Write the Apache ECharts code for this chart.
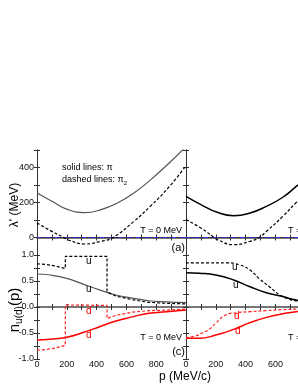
<!DOCTYPE html>
<html><head><meta charset="utf-8">
<script src="https://cdn.jsdelivr.net/npm/echarts@6/dist/echarts.min.js"></script>
<style>html,body{margin:0;padding:0;background:#fff}#c{width:298px;height:385px}</style>
</head><body><div id="c"></div>
<script>
// ---- data (p in MeV/c) ----
const xTicks = [0, 200, 400, 600, 800];
const lamTicks = [0, 200, 400];
const nTicks = [-1.0, -0.5, 0.0, 0.5, 1.0];

// panel (a) left, T = 0
const aPiL_p = [0, 100, 200, 320, 430, 540, 650, 760, 880, 1000];
const aPiL_v = [254, 207, 162, 142, 159, 197, 254, 328, 420, 520];
const aPi2L_p = [0, 100, 180, 210, 320, 430, 510, 650, 760, 880, 1000];
const aPi2L_v = [83, 35, 0, -14, -37, -22, 0, 92, 178, 283, 410];
// panel (a) right
const aPiR_p = [0, 100, 210, 320, 430, 540, 650, 740, 850, 1000];
const aPiR_v = [235, 188, 144, 125, 140, 178, 230, 292, 370, 480];
const aPi2R_p = [0, 100, 190, 210, 320, 430, 490, 540, 650, 740, 850, 1000];
const aPi2R_v = [102, 54, 0, -12, -41, -22, 0, 35, 121, 200, 290, 420];
// zero reference line (blue dash-dot)
const zero_p = [0, 1000];
const zero_v = [0, 0];

// panel (c) left
const uSolL_p = [0, 90, 200, 310, 420, 530, 640, 750, 870, 1000];
const uSolL_v = [0.635, 0.615, 0.55, 0.44, 0.33, 0.23, 0.17, 0.12, 0.10, 0.085];
const uDashL_p = [0, 60, 120, 190, 190, 470, 470, 530, 640, 750, 870, 1000];
const uDashL_v = [0.83, 0.82, 0.79, 0.74, 0.975, 0.975, 0.29, 0.21, 0.14, 0.09, 0.07, 0.06];
const dSolL_p = [0, 90, 200, 310, 420, 530, 640, 750, 870, 1000];
const dSolL_v = [-0.635, -0.62, -0.58, -0.49, -0.38, -0.27, -0.19, -0.12, -0.09, -0.06];
const dDashL_p = [0, 60, 120, 190, 190, 470, 470, 530, 640, 750, 870, 1000];
const dDashL_v = [-0.83, -0.82, -0.79, -0.74, 0.04, 0.03, -0.22, -0.16, -0.10, -0.07, -0.06, -0.04];
// panel (c) right
const uSolR_p = [0, 90, 200, 320, 430, 540, 650, 740, 850, 1000];
const uSolR_v = [0.66, 0.65, 0.615, 0.52, 0.39, 0.275, 0.20, 0.135, 0.10, 0.07];
const uDashR_p = [0, 150, 270, 360, 430, 490, 560, 630, 690, 740, 850, 1000];
const uDashR_v = [0.85, 0.85, 0.85, 0.81, 0.71, 0.55, 0.39, 0.23, 0.15, 0.115, 0.08, 0.06];
const dSolR_p = [0, 90, 200, 320, 430, 540, 650, 740, 850, 1000];
const dSolR_v = [-0.60, -0.60, -0.54, -0.43, -0.30, -0.20, -0.13, -0.09, -0.07, -0.05];
const dDashR_p = [0, 60, 110, 160, 200, 270, 340, 430, 540, 650, 740, 850, 1000];
const dDashR_v = [-0.59, -0.56, -0.50, -0.42, -0.31, -0.15, -0.11, -0.09, -0.07, -0.05, -0.04, -0.03, -0.02];

// ---- chart ----
const FONT = 'Liberation Sans, Arial, sans-serif';
const zip = (p, v) => p.map((x, i) => [x, v[i]]);
const chart = echarts.init(document.getElementById('c'), null, {renderer: 'canvas'});

const grids = [
  {left: 37, top: 150, width: 149, height: 105, outerBoundsMode: 'none'},
  {left: 186, top: 150, width: 149, height: 105, outerBoundsMode: 'none'},
  {left: 37, top: 255, width: 149, height: 104, outerBoundsMode: 'none'},
  {left: 186, top: 255, width: 149, height: 104, outerBoundsMode: 'none'}
];
const axisLine = {show: true, lineStyle: {color: '#333', width: 1}};
const sepLine = {show: true, lineStyle: {color: '#777', width: 2}};
const tick = {show: true, inside: true, length: 3, lineStyle: {color: '#333'}};
const lblStyle = {color: '#111', fontSize: 9, fontFamily: FONT};

const xAxes = [], yAxes = [];
grids.forEach((g, gi) => {
  const bottomRow = gi >= 2;
  const leftCol = gi % 2 === 0;
  xAxes.push({
    gridIndex: gi, type: 'value', position: 'bottom', min: 0, max: 1000, interval: 100,
    axisLine: bottomRow ? axisLine : sepLine, axisTick: tick, splitLine: {show: false},
    axisLabel: bottomRow ? Object.assign({show: true, margin: 1,
      formatter: v => (xTicks.indexOf(v) >= 0 ? String(v) : '')}, lblStyle) : {show: false}
  });
  xAxes.push({
    gridIndex: gi, type: 'value', position: 'top', min: 0, max: 1000, interval: 100,
    axisLine: bottomRow ? sepLine : axisLine, axisTick: tick, splitLine: {show: false}, axisLabel: {show: false}
  });
  const yRange = bottomRow ? {min: -1, max: 1, interval: 0.25} : {min: -100, max: 500, interval: 100};
  const ticksList = bottomRow ? nTicks : lamTicks;
  yAxes.push(Object.assign({
    gridIndex: gi, type: 'value', position: 'left', axisLine: axisLine, axisTick: tick, splitLine: {show: false},
    axisLabel: leftCol ? Object.assign({show: true, margin: 3, formatter: v => {
      const hit = ticksList.some(t => Math.abs(t - v) < 1e-6);
      if (!hit) return '';
      return bottomRow ? v.toFixed(1) : String(v);
    }}, lblStyle) : {show: false}
  }, yRange));
  yAxes.push(Object.assign({
    gridIndex: gi, type: 'value', position: 'right', axisLine: axisLine, axisTick: tick,
    splitLine: {show: false}, axisLabel: {show: false}
  }, yRange));
});

function line(gi, data, color, width, dash, smooth) {
  return {
    type: 'line', xAxisIndex: gi * 2, yAxisIndex: gi * 2, data: data,
    symbol: 'none', showSymbol: false, smooth: smooth ? 0.5 : false,
    lineStyle: {color: color, width: width, type: dash || 'solid'},
    silent: true, animation: false, z: 3
  };
}
const DASH = [3, 2];
const DASHDOT = [4, 2, 1, 2];

const series = [
  line(0, zip(zero_p, zero_v), '#2f2fe0', 1, DASHDOT, false),
  line(1, zip(zero_p, zero_v), '#2f2fe0', 1, DASHDOT, false),
  line(0, zip(aPiL_p, aPiL_v), '#555', 1.2, null, true),
  line(0, zip(aPi2L_p, aPi2L_v), '#000', 1.2, DASH, true),
  line(1, zip(aPiR_p, aPiR_v), '#000', 1.5, null, true),
  line(1, zip(aPi2R_p, aPi2R_v), '#000', 1.2, DASH, true),
  line(2, zip(uSolL_p, uSolL_v), '#555', 1.2, null, true),
  line(2, zip(uDashL_p, uDashL_v), '#000', 1.2, DASH, false),
  line(2, zip(dSolL_p, dSolL_v), '#ff0000', 1.5, null, true),
  line(2, zip(dDashL_p, dDashL_v), '#ff2020', 1.2, DASH, false),
  line(3, zip(uSolR_p, uSolR_v), '#000', 1.5, null, true),
  line(3, zip(uDashR_p, uDashR_v), '#000', 1.2, DASH, true),
  line(3, zip(dSolR_p, dSolR_v), '#ff0000', 1.5, null, true),
  line(3, zip(dDashR_p, dDashR_v), '#ff2020', 1.2, DASH, true)
];

function txt(x, y, text, opts) {
  return {type: 'text', x: x, y: y, silent: true, z: 10, rotation: (opts && opts.rotation) || 0,
    style: Object.assign({text: text, fill: '#000', fontSize: 9, fontFamily: FONT,
      textAlign: 'left', textVerticalAlign: 'middle'}, (opts && opts.style) || {})};
}
const graphics = [
  txt(62, 168, 'solid lines: π'),
  txt(62, 180, '{a|dashed lines: π}{b|2}', {style: {rich: {
    a: {fontSize: 9, fontFamily: FONT, lineHeight: 12, verticalAlign: 'middle'},
    b: {fontSize: 6, fontFamily: FONT, lineHeight: 12, verticalAlign: 'bottom', padding: [4, 0, 0, 0]}}}}),
  txt(182, 231, 'T = 0 MeV', {style: {textAlign: 'right'}}),
  txt(185, 248, '(a)', {style: {textAlign: 'right', fontSize: 11}}),
  txt(182, 338, 'T = 0 MeV', {style: {textAlign: 'right'}}),
  txt(185, 352, '(c)', {style: {textAlign: 'right', fontSize: 11}}),
  txt(288, 231, 'T ='),
  txt(288, 338, 'T ='),
  txt(86, 261, 'u', {style: {fontSize: 10}}),
  txt(86, 289, 'u', {style: {fontSize: 10}}),
  txt(86, 311, 'd', {style: {fontSize: 10, fill: '#ff0000'}}),
  txt(86, 335, 'd', {style: {fontSize: 10, fill: '#ff0000'}}),
  txt(232, 267, 'u', {style: {fontSize: 10}}),
  txt(233, 285, 'u', {style: {fontSize: 10}}),
  txt(234, 316, 'd', {style: {fontSize: 10, fill: '#ff0000'}}),
  txt(235, 331, 'd', {style: {fontSize: 10, fill: '#ff0000'}}),
  txt(185, 377, 'p (MeV/c)', {style: {textAlign: 'center', fontSize: 12}}),
  txt(15, 205, "λ' (MeV)", {rotation: Math.PI / 2, style: {textAlign: 'center', fontSize: 12}}),
  txt(15, 310, '{a|n}{b|u(d)}{a|(p)}', {rotation: Math.PI / 2, style: {textAlign: 'center', rich: {
    a: {fontSize: 15, fontFamily: FONT, lineHeight: 18, verticalAlign: 'middle'},
    b: {fontSize: 10, fontFamily: FONT, lineHeight: 18, verticalAlign: 'bottom', padding: [6, 0, 0, 0]}}}})
];

chart.setOption({
  animation: false,
  backgroundColor: '#fff',
  textStyle: {fontFamily: FONT},
  grid: grids,
  xAxis: xAxes,
  yAxis: yAxes,
  series: series,
  graphic: {elements: graphics}
});
</script></body></html>
